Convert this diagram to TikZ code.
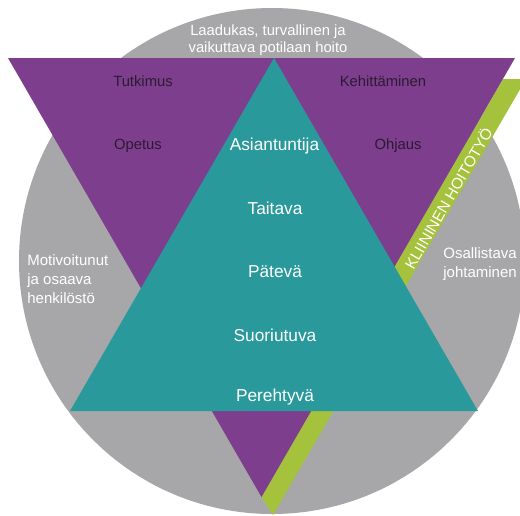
\documentclass[tikz,border=0pt]{standalone}
\usepackage{fontspec}
\setmainfont{Liberation Sans}
\definecolor{ringgrey}{HTML}{A7A7A9}
\definecolor{levelpurple}{HTML}{7E3E8E}
\definecolor{levelteal}{HTML}{2A999B}
\definecolor{stripegreen}{HTML}{A4C23B}
\definecolor{darklabel}{HTML}{2B1B30}
\tikzset{
  darktext/.style={text=darklabel, inner sep=0pt, font=\fontsize{7.4}{9}\selectfont},
  lighttext/.style={text=white, inner sep=0pt, font=\fontsize{7.5}{9.5}\selectfont},
  leveltext/.style={text=white, inner sep=0pt, font=\fontsize{8.65}{10}\selectfont}
}
\begin{document}
\begin{tikzpicture}[x=0.5pt, y=-0.5pt]
      \clip (0,0) rectangle (520,515);
      \fill[white] (0,0) rectangle (520,515);
      % shapes
      \fill[ringgrey] (272,261) circle[radius=253];
      \fill[stripegreen] (503,79) -- (526,79) -- (273,515) -- (261.5,497) -- cycle;
      \fill[levelpurple] (8,58) -- (515,58) -- (261.5,497) -- cycle;
      \fill[levelteal] (274,58) -- (478,411) -- (70,411) -- cycle;
      % labels
      \node[lighttext, align=center, font=\fontsize{7.4}{8.5}\selectfont] (goal) at (268,40)
        {Laadukas, turvallinen ja\\vaikuttava potilaan hoito};
      \node[darktext] (research) at (143,81) {Tutkimus};
      \node[darktext] (teaching) at (138,146) {Opetus};
      \node[darktext] (developing) at (383,81) {Kehittäminen};
      \node[darktext] (guidance) at (398,146) {Ohjaus};
      \node[leveltext] (expert) at (274.5,146) {Asiantuntija};
      \node[leveltext] (proficient) at (275,208) {Taitava};
      \node[leveltext] (competent) at (275,272) {Pätevä};
      \node[leveltext] (beginner) at (275,335) {Suoriutuva};
      \node[leveltext] (novice) at (275,397) {Perehtyvä};
      \node[lighttext, align=left, anchor=west] (staff) at (27,279)
        {Motivoitunut\\ja osaava\\henkilöstö};
      \node[lighttext, align=left, anchor=west, font=\fontsize{7.5}{9.2}\selectfont] (leading) at (443,264)
        {Osallistava\\johtaminen};
      \node[lighttext, rotate=60, font=\fontsize{7.7}{9}\selectfont] (clinical) at (448,198)
        {KLIININEN HOITOTYÖ};
    \end{tikzpicture}
\end{document}
